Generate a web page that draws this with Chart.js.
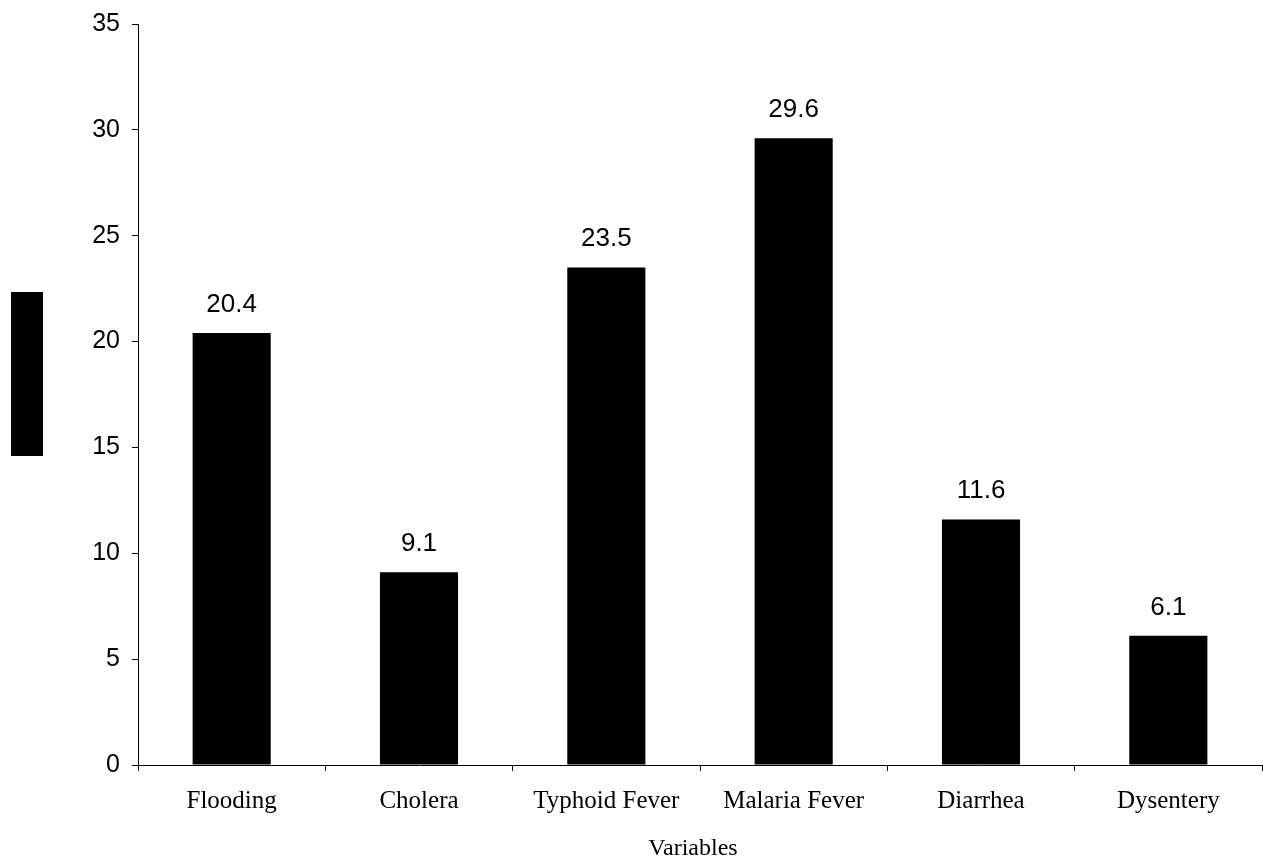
<!DOCTYPE html>
<html>
<head>
<meta charset="utf-8">
<script src="https://cdn.jsdelivr.net/npm/chart.js@4/dist/chart.umd.min.js"></script>
<style>
  html, body { margin: 0; padding: 0; background: #fff; }
  #wrap { width: 1263px; height: 859px; position: relative; }
</style>
</head>
<body>
<div id="wrap"><canvas id="c"></canvas></div>
<script>
// Categories and percentages per variable
const categories = ['Flooding', 'Cholera', 'Typhoid Fever', 'Malaria Fever', 'Diarrhea', 'Dysentery'];
const values = [20.4, 9.1, 23.5, 29.6, 11.6, 6.1];
const yTicks = [0, 5, 10, 15, 20, 25, 30, 35];
const xTitle = 'Variables';

const SANS = '"Liberation Sans", Arial, sans-serif';
const SERIF = '"Liberation Serif", "Times New Roman", serif';

// Value labels drawn above each bar
const valueLabels = {
  id: 'valueLabels',
  afterDatasetsDraw(chart) {
    const ctx = chart.ctx;
    const meta = chart.getDatasetMeta(0);
    ctx.save();
    ctx.font = '26px ' + SANS;
    ctx.fillStyle = '#000';
    ctx.textAlign = 'center';
    ctx.textBaseline = 'alphabetic';
    meta.data.forEach((bar, i) => {
      ctx.fillText(values[i].toFixed(1), bar.x, bar.y - 21);
    });
    ctx.restore();
  }
};

// Axis title under the category labels, plus the solid key block at the left edge
const decorations = {
  id: 'decorations',
  afterDraw(chart) {
    const ctx = chart.ctx;
    const area = chart.chartArea;
    ctx.save();
    ctx.fillStyle = '#000';
    ctx.fillRect(11, 292, 32, 164);
    ctx.font = '24px ' + SERIF;
    ctx.textAlign = 'center';
    ctx.textBaseline = 'alphabetic';
    ctx.fillText(xTitle, (area.left + area.right) / 2 - 7, chart.height - 4);
    ctx.restore();
  }
};

new Chart(document.getElementById('c'), {
  type: 'bar',
  data: {
    labels: categories,
    datasets: [{
      data: values,
      backgroundColor: '#000',
      borderWidth: 0,
      categoryPercentage: 1.0,
      barPercentage: 0.417
    }]
  },
  options: {
    responsive: true,
    maintainAspectRatio: false,
    animation: false,
    layout: { padding: { top: 24, right: 1, left: 0, bottom: 0 } },
    plugins: {
      legend: { display: false },
      tooltip: { enabled: false }
    },
    scales: {
      x: {
        grid: {
          display: true,
          drawOnChartArea: false,
          drawTicks: true,
          tickLength: 6,
          color: '#000',
          offset: true
        },
        border: { display: true, color: '#000', width: 1 },
        ticks: {
          color: '#000',
          padding: 15,
          maxRotation: 0,
          font: { family: SERIF, size: 25 }
        },
        afterFit(scale) { scale.height = 94; }
      },
      y: {
        min: 0,
        max: 35,
        afterBuildTicks(scale) { scale.ticks = yTicks.map(v => ({ value: v })); },
        grid: {
          display: true,
          drawOnChartArea: false,
          drawTicks: true,
          tickLength: 6,
          color: '#000'
        },
        border: { display: true, color: '#000', width: 1 },
        ticks: {
          color: '#000',
          padding: 12,
          font: { family: SANS, size: 25, lineHeight: 1 }
        },
        afterFit(scale) {
          scale.width = 138;
          scale.paddingTop = 0;
          scale.paddingBottom = 0;
        }
      }
    }
  },
  plugins: [valueLabels, decorations]
});
</script>
</body>
</html>
